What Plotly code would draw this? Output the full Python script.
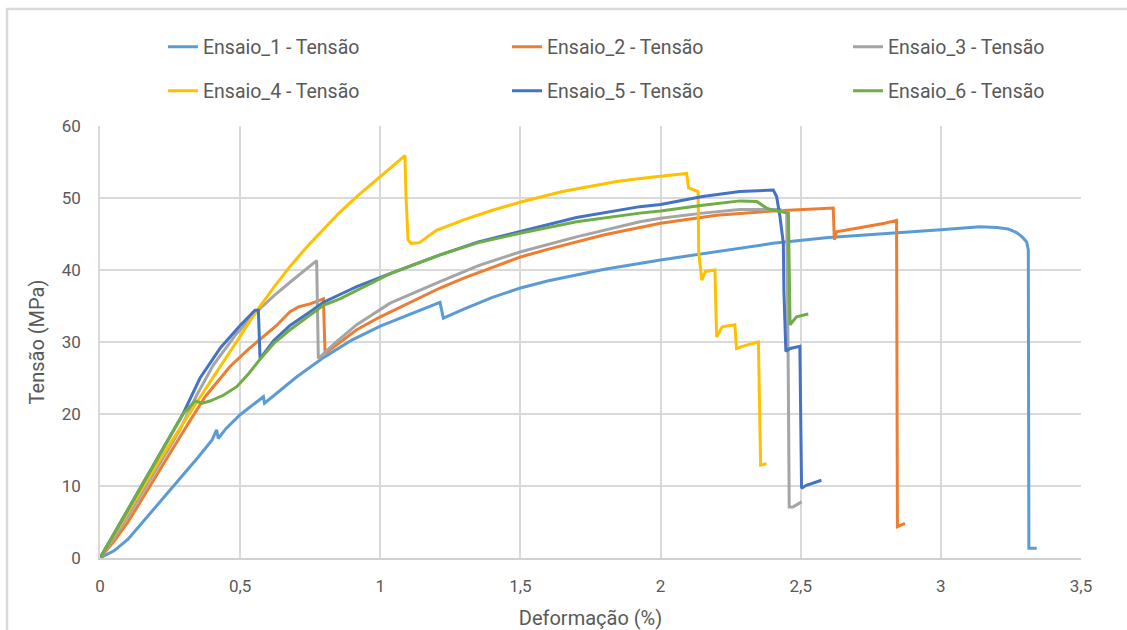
import plotly.graph_objects as go

# Deformação (%) / Tensão (MPa) for each tensile test
ensaio_1_x = [0, 0.05, 0.1, 0.16, 0.2, 0.25, 0.3, 0.35, 0.4, 0.416, 0.422, 0.45, 0.5, 0.55, 0.583, 0.587,
              0.63, 0.7, 0.8, 0.9, 1.0, 1.1, 1.213, 1.225, 1.3, 1.4, 1.5, 1.6, 1.8, 2.0, 2.2, 2.4, 2.6,
              2.8, 3.0, 3.14, 3.2, 3.24, 3.27, 3.29, 3.306, 3.312, 3.314, 3.342]
ensaio_1_y = [0, 1.0, 2.6, 5.3, 7.1, 9.4, 11.7, 14.0, 16.4, 17.8, 16.6, 18.0, 19.9, 21.4, 22.4, 21.5,
              22.9, 25.1, 27.9, 30.3, 32.2, 33.8, 35.5, 33.3, 34.6, 36.2, 37.5, 38.5, 40.1, 41.4, 42.6, 43.7, 44.5,
              45.1, 45.6, 46.0, 45.9, 45.7, 45.2, 44.6, 43.9, 42.8, 1.35, 1.35]

ensaio_2_x = [0, 0.05, 0.1, 0.178, 0.285, 0.375, 0.464, 0.53, 0.583, 0.63, 0.678, 0.71, 0.75, 0.797, 0.803,
              0.85, 0.916, 1.0, 1.1, 1.213, 1.3, 1.4, 1.5, 1.6, 1.8, 2.0, 2.2, 2.4, 2.5, 2.616, 2.62, 2.628,
              2.7, 2.8, 2.842, 2.845, 2.872]
ensaio_2_y = [0, 2.3, 5.0, 10.0, 16.8, 22.4, 26.6, 29.0, 30.8, 32.3, 34.2, 34.9, 35.3, 36.0, 28.4,
              29.8, 31.7, 33.5, 35.4, 37.5, 38.9, 40.4, 41.8, 42.9, 44.9, 46.5, 47.6, 48.2, 48.4, 48.6, 44.2, 45.3,
              45.8, 46.5, 46.9, 4.35, 4.8]

ensaio_3_x = [0, 0.05, 0.1, 0.166, 0.25, 0.285, 0.345, 0.404, 0.488, 0.559, 0.62, 0.678, 0.73, 0.773, 0.779,
              0.84, 0.916, 1.035, 1.213, 1.35, 1.498, 1.7, 1.926, 2.0, 2.15, 2.283, 2.426, 2.45, 2.455, 2.459,
              2.473, 2.503]
ensaio_3_y = [0, 2.8, 5.8, 10.0, 15.5, 17.8, 22.6, 26.8, 31.2, 34.2, 36.4, 38.3, 40.0, 41.3, 27.7,
              29.9, 32.4, 35.4, 38.4, 40.6, 42.5, 44.6, 46.7, 47.2, 47.9, 48.4, 48.4, 47.9, 28.4, 7.1,
              7.1, 7.8]

ensaio_4_x = [0, 0.05, 0.1, 0.155, 0.2, 0.25, 0.321, 0.4, 0.48, 0.553, 0.62, 0.678, 0.74, 0.797, 0.85, 0.916,
              0.97, 1.011, 1.05, 1.088, 1.092, 1.099, 1.11, 1.14, 1.2, 1.3, 1.4, 1.498, 1.65, 1.843, 1.95, 2.093,
              2.1, 2.134, 2.136, 2.147, 2.16, 2.194, 2.2, 2.22, 2.265, 2.271, 2.3, 2.349, 2.357, 2.378]
ensaio_4_y = [0, 3.2, 6.5, 10.0, 12.8, 15.9, 20.2, 24.9, 29.6, 34.0, 37.6, 40.5, 43.3, 45.7, 47.8, 50.2,
              52.0, 53.3, 54.6, 55.9, 50.0, 44.2, 43.7, 43.8, 45.5, 47.0, 48.3, 49.4, 50.9, 52.3, 52.8, 53.4,
              51.4, 50.9, 42.5, 38.6, 39.8, 40.0, 30.7, 32.1, 32.4, 29.1, 29.5, 30.0, 12.9, 13.1]

ensaio_5_x = [0, 0.05, 0.1, 0.149, 0.2, 0.296, 0.357, 0.43, 0.5, 0.553, 0.565, 0.571, 0.62, 0.678, 0.75,
              0.797, 0.856, 0.916, 1.035, 1.213, 1.35, 1.498, 1.7, 1.926, 2.0, 2.15, 2.283, 2.402, 2.414,
              2.426, 2.438, 2.44, 2.447, 2.462, 2.497, 2.503, 2.52, 2.574]
ensaio_5_y = [0, 3.4, 6.8, 10.0, 13.4, 20.0, 25.0, 29.2, 32.3, 34.4, 34.4, 27.7, 30.2, 32.3, 34.2,
              35.5, 36.6, 37.7, 39.5, 42.1, 43.9, 45.3, 47.3, 48.8, 49.1, 50.2, 50.9, 51.1, 50.2,
              47.4, 43.7, 37.2, 28.7, 29.1, 29.4, 9.7, 10.1, 10.8]

ensaio_6_x = [0, 0.05, 0.1, 0.149, 0.2, 0.296, 0.339, 0.365, 0.392, 0.44, 0.488, 0.53, 0.571, 0.62, 0.678,
              0.75, 0.797, 0.856, 0.916, 1.035, 1.213, 1.35, 1.498, 1.7, 1.926, 2.0, 2.15, 2.283, 2.343,
              2.378, 2.402, 2.456, 2.462, 2.485, 2.527]
ensaio_6_y = [0, 3.4, 6.8, 10.0, 13.5, 20.0, 21.8, 21.5, 21.8, 22.6, 23.8, 25.6, 27.6, 29.8, 31.7,
              33.8, 35.1, 36.0, 37.2, 39.5, 42.1, 43.8, 45.1, 46.7, 47.9, 48.2, 49.0, 49.6, 49.5,
              48.6, 48.3, 47.9, 32.4, 33.5, 33.9]

series_names = ["Ensaio_1 - Tensão", "Ensaio_2 - Tensão", "Ensaio_3 - Tensão",
                "Ensaio_4 - Tensão", "Ensaio_5 - Tensão", "Ensaio_6 - Tensão"]
series_x = [ensaio_1_x, ensaio_2_x, ensaio_3_x, ensaio_4_x, ensaio_5_x, ensaio_6_x]
series_y = [ensaio_1_y, ensaio_2_y, ensaio_3_y, ensaio_4_y, ensaio_5_y, ensaio_6_y]
colors = ["#5B9BD5", "#ED7D31", "#A5A5A5", "#FFC000", "#4472C4", "#70AD47"]

x_ticks = [0, 0.5, 1, 1.5, 2, 2.5, 3, 3.5]
y_ticks = [0, 10, 20, 30, 40, 50, 60]

FONT = "Roboto, sans-serif"
TEXT = "#595959"
GRID = "#D9D9D9"

# one legend box per entry: 3 columns x 2 rows above the plot
legend_cols = [0.0642, 0.4149, 0.7625]
legend_rows = [1.1829, 1.081]

fig = go.Figure()
legend_layout = {}
for i, (name, xs, ys, c) in enumerate(zip(series_names, series_x, series_y, colors)):
    key = "legend" if i == 0 else f"legend{i + 1}"
    fig.add_trace(go.Scatter(
        x=xs, y=ys, name=name, mode="lines",
        line=dict(color=c, width=3),
        legend=key, showlegend=True,
    ))
    legend_layout[key] = dict(
        x=legend_cols[i % 3], y=legend_rows[i // 3],
        xanchor="left", yanchor="middle", orientation="h",
        font=dict(family=FONT, size=19.5, color=TEXT),
        bgcolor="rgba(0,0,0,0)", borderwidth=0, visible=True,
    )

fig.update_layout(
    width=1127, height=630,
    showlegend=True,
    margin=dict(l=100, r=46, t=126, b=72),
    paper_bgcolor="white", plot_bgcolor="white",
    separators=", ",
    font=dict(family=FONT, color=TEXT),
    xaxis=dict(
        range=[0, 3.5], tickvals=x_ticks, showgrid=True, gridcolor=GRID, gridwidth=1.5,
        showline=True, linecolor="#D0D0D0", linewidth=2, zeroline=False, automargin=False,
        tickfont=dict(family=FONT, size=17, color=TEXT), ticks="", ticklabelstandoff=12,
        title=dict(text="Deformação (%)", font=dict(family=FONT, size=20, color=TEXT), standoff=16),
    ),
    yaxis=dict(
        range=[0, 60], tickvals=y_ticks, showgrid=True, gridcolor=GRID, gridwidth=1.5,
        showline=True, linecolor=GRID, linewidth=1.5, zeroline=False, automargin=False,
        tickfont=dict(family=FONT, size=17, color=TEXT), ticks="", ticklabelstandoff=14,
        title=dict(text="Tensão (MPa)", font=dict(family=FONT, size=20, color=TEXT), standoff=12),
    ),
    shapes=[dict(
        type="rect", xref="paper", yref="paper",
        x0=(7 - 100) / 981, x1=1.2, y0=-0.5, y1=(558 - 9) / 432,
        line=dict(color="#D9D9D9", width=2.5), fillcolor="rgba(0,0,0,0)", layer="below",
    )],
    **legend_layout,
)

fig.write_html("out.html")
